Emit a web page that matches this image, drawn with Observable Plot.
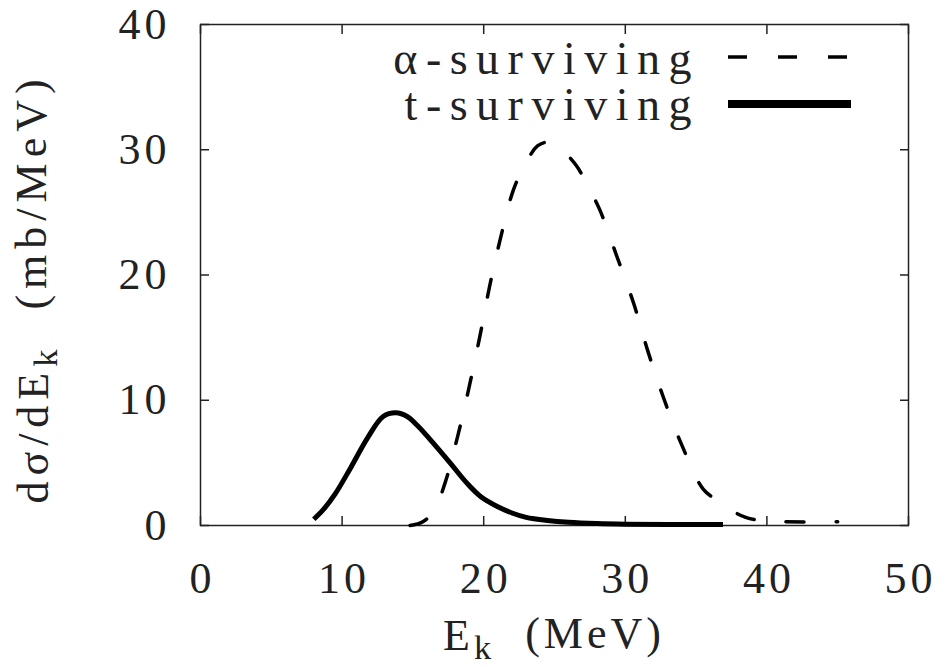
<!DOCTYPE html>
<html><head><meta charset="utf-8">
<script src="https://cdn.jsdelivr.net/npm/d3@7"></script>
<script src="https://cdn.jsdelivr.net/npm/@observablehq/plot@0.6"></script>
<style>
body{margin:0;background:#fff}
#chart svg{font-family:"Liberation Serif",serif;background:#fff}
</style>
</head><body><div id="chart"></div>
<script>
// ---- data ----
const xTicks = [0, 10, 20, 30, 40, 50];
const yTicks = [0, 10, 20, 30, 40];
const seriesNames = ["α-surviving", "t-surviving"];

// α-surviving (dashed)
const alphaE = [14.8, 15.7, 16.5, 17.3, 18.2, 19.0, 19.8, 20.4, 21.2, 22.1, 23.0, 23.8, 24.5, 25.2, 26.5, 27.4, 28.2, 29.4, 30.6, 31.6, 32.7, 34.0, 35.5, 36.5, 37.5, 38.5, 39.5, 41.0, 45.0];
const alphaY = [0.0, 0.3, 1.2, 3.5, 7.3, 11.2, 15.5, 19.0, 23.0, 26.8, 29.0, 30.3, 30.6, 30.3, 28.8, 27.0, 25.2, 21.5, 17.7, 13.9, 10.2, 6.4, 2.9, 2.0, 1.2, 0.65, 0.4, 0.3, 0.3];

// t-surviving (solid)
const tE = [8.0, 8.7, 9.5, 10.6, 11.8, 12.9, 13.8, 14.6, 15.3, 16.5, 17.7, 18.8, 19.8, 21.0, 22.0, 23.0, 24.5, 26.0, 28.0, 30.0, 33.0, 36.9];
const tY = [0.5, 1.3, 2.5, 4.6, 7.0, 8.7, 9.0, 8.7, 8.0, 6.5, 4.9, 3.4, 2.3, 1.5, 1.0, 0.65, 0.4, 0.25, 0.15, 0.1, 0.08, 0.08];

const xLabel = ["E", "k", "  (MeV)"];
const yLabel = ["dσ/dE", "k", "  (mb/MeV)"];

// ---- build ----
const alpha = alphaE.map((e, i) => ({e, v: alphaY[i]}));
const trit = tE.map((e, i) => ({e, v: tY[i]}));

const W = 952, H = 667;
const mL = 200, mT = 24, mR = 44, mB = 142;
const FS = 44;
const FF = '"Liberation Serif", serif';
const LS = "4px";

const plot = Plot.plot({
  width: W, height: H,
  marginLeft: mL, marginTop: mT, marginRight: mR, marginBottom: mB,
  style: {fontFamily: FF, fontSize: FS + "px", color: "#222", background: "#fff", letterSpacing: LS},
  x: {domain: [0, 50], ticks: xTicks, label: null},
  y: {domain: [0, 40], ticks: yTicks, label: null},
  marks: [
    Plot.frame({stroke: "#222", strokeWidth: 1.5}),
    // tick labels
    Plot.axisX(xTicks, {anchor: "bottom", tickSize: 0, tickPadding: 36, label: null, fill: "#222", dx: 2}),
    Plot.axisY(yTicks, {anchor: "left", tickSize: 0, tickPadding: 30, label: null, fill: "#222"}),
    // inward ticks (mirrored on all sides)
    Plot.axisX(xTicks, {anchor: "bottom", tickSize: 9, dy: -9, tickFormat: () => "", label: null, stroke: "#222", strokeWidth: 1.5}),
    Plot.axisX(xTicks, {anchor: "top", tickSize: 9, dy: 9, tickFormat: () => "", label: null, stroke: "#222", strokeWidth: 1.5}),
    Plot.axisY(yTicks, {anchor: "left", tickSize: 9, dx: 9, tickFormat: () => "", label: null, stroke: "#222", strokeWidth: 1.5}),
    Plot.axisY(yTicks, {anchor: "right", tickSize: 9, dx: -9, tickFormat: () => "", label: null, stroke: "#222", strokeWidth: 1.5}),
    // curves
    Plot.line(alpha, {x: "e", y: "v", curve: "catmull-rom", stroke: "#000", strokeWidth: 3.5, strokeDasharray: "18,32"}),
    Plot.line(trit, {x: "e", y: "v", curve: "catmull-rom", stroke: "#000", strokeWidth: 5, strokeLinecap: "butt"})
  ]
});
document.getElementById("chart").append(plot);

// ---- labels & legend (text with subscripts) ----
const svg = d3.select(plot);
function addSubText(g, parts, attrs, ls) {
  const t = g.append("text").attr("font-family", FF).attr("font-size", FS).attr("fill", "#222")
    .style("letter-spacing", ls).style("white-space", "pre");
  for (const [k, v] of Object.entries(attrs)) t.attr(k, v);
  t.append("tspan").text(parts[0]);
  t.append("tspan").attr("dy", "0.25em").attr("font-size", FS * 0.78).text(parts[1]);
  t.append("tspan").attr("dy", "-0.25em").text(parts[2]);
  return t;
}
const cx = mL + (W - mL - mR) / 2;
const cy = mT + (H - mT - mB) / 2;
addSubText(svg, xLabel, {x: cx, y: 650, "text-anchor": "middle"}, "4px");
addSubText(svg, yLabel, {"text-anchor": "middle", transform: `translate(48,${cy + 14}) rotate(-90)`}, "6px");

// legend
const leg = svg.append("g");
const legRows = [
  {name: seriesNames[0], y: 74, ly: 57, dash: "19,31", sw: 3.5},
  {name: seriesNames[1], y: 120, ly: 104, dash: null, sw: 8}
];
for (const r of legRows) {
  leg.append("text").attr("x", 700).attr("y", r.y).attr("text-anchor", "end")
    .attr("font-family", FF).attr("font-size", 46).attr("fill", "#222")
    .style("letter-spacing", "8.5px").text(r.name);
  const l = leg.append("line").attr("x1", 728).attr("x2", 851).attr("y1", r.ly).attr("y2", r.ly)
    .attr("stroke", "#000").attr("stroke-width", r.sw);
  if (r.dash) l.attr("stroke-dasharray", r.dash);
}
</script>
</body></html>
